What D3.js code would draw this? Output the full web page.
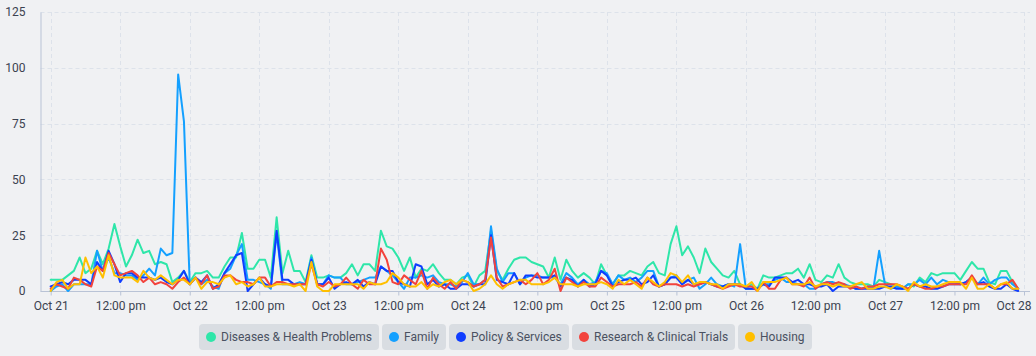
<!DOCTYPE html>
<html><head><meta charset="utf-8">
<script src="https://cdn.jsdelivr.net/npm/d3@7"></script>
<style>
html,body{margin:0;padding:0;background:#f0f1f3;}
svg{display:block;font-family:Roboto,"Noto Sans",sans-serif;}
</style></head>
<body><svg id="chart" width="1036" height="356"></svg>
<script>
// Hourly values, Oct 21 00:00 .. Oct 27 23:00
const seriesNames = ["Diseases & Health Problems","Family","Policy & Services","Research & Clinical Trials","Housing"];
const seriesColors = ["#2ee6a9","#14a0ff","#0f3dff","#f2433d","#ffbf00"];

const diseases = [
 5,5,5,7,9,15,8,10,18,12,19,30,20,11,16,23,17,18,12,13,12,4,6,9,
 4,8,8,9,6,6,11,15,15,26,10,10,14,14,6,33,8,18,9,9,4,16,6,6,
 7,6,6,8,12,7,12,12,9,27,20,19,15,9,15,6,10,9,12,8,5,5,3,6,
 7,2,7,9,27,9,5,10,14,15,15,13,12,11,6,15,5,14,9,6,8,6,3,12,
 7,3,7,7,9,8,7,11,13,8,7,21,29,16,20,15,8,19,13,10,7,6,9,3,
 1,3,1,7,6,6,7,8,8,10,6,12,5,4,7,6,12,6,4,3,3,3,2,5,
 4,3,2,1,3,2,6,4,8,7,8,8,8,5,9,13,10,10,4,3,9,9,4,1];
const family = [
 0,2,3,0,3,3,3,3,18,9,15,8,8,7,7,5,7,10,7,19,16,17,97,76,
 3,6,3,5,2,1,8,10,16,21,5,5,4,3,1,26,3,3,3,4,3,15,3,3,
 7,6,6,3,3,4,5,6,6,11,9,7,4,1,6,6,7,6,7,4,3,3,2,4,
 8,3,3,5,29,10,4,8,8,3,6,7,7,6,6,6,3,8,6,3,5,3,4,9,
 8,3,7,5,6,4,6,9,9,2,3,6,7,3,5,6,1,3,6,3,2,3,2,21,
 1,1,1,3,3,5,6,4,4,3,3,1,1,3,4,4,3,3,2,1,1,2,1,18,
 3,1,2,1,3,3,5,3,6,3,5,4,4,3,4,6,3,6,3,5,6,6,3,1];
const policy = [
 2,3,4,3,5,5,5,3,13,9,18,12,4,8,8,6,6,6,5,6,4,3,5,9,
 3,6,4,7,1,3,8,12,16,17,0,3,6,3,2,27,5,5,3,3,3,14,3,3,
 6,1,3,4,3,5,2,4,3,11,9,9,4,3,2,12,11,3,5,2,3,1,1,3,
 3,2,3,3,25,5,4,3,8,3,7,7,6,6,6,7,2,6,5,2,5,2,3,9,
 7,2,4,5,5,6,3,4,7,2,3,6,6,3,5,3,3,4,3,2,2,3,3,3,
 1,1,1,3,2,6,6,6,4,5,3,3,2,2,3,0,2,2,2,1,1,1,1,1,
 2,2,1,1,1,3,2,2,1,1,2,3,3,3,4,6,3,4,2,1,1,3,1,0];
const research = [
 1,3,2,1,6,5,3,2,11,9,17,12,7,8,9,7,4,6,3,4,3,1,4,6,
 3,6,3,7,1,2,7,7,5,4,4,3,6,6,2,4,4,3,3,3,3,12,3,2,
 4,2,3,6,3,1,5,3,3,19,14,4,3,7,5,3,9,1,6,3,1,4,1,5,
 4,2,3,5,24,6,2,3,4,5,3,5,8,3,5,10,0,6,4,2,4,2,2,6,
 4,2,3,3,3,4,2,6,3,2,3,3,3,2,3,2,3,4,3,2,1,2,3,2,
 2,2,0,4,1,1,5,6,3,3,2,6,1,3,4,3,4,3,1,2,1,2,2,3,
 3,3,3,2,1,3,2,1,1,2,2,3,3,3,3,7,3,3,3,1,3,3,5,1];
const housing = [
 0,4,5,1,3,3,15,8,11,6,16,7,6,6,6,4,9,6,5,7,5,3,5,5,
 3,6,1,4,4,3,6,7,3,4,2,3,6,2,2,3,3,3,2,3,0,13,2,0,
 0,3,3,3,3,3,1,4,3,3,4,8,6,3,2,2,4,1,3,2,4,5,3,5,
 4,0,1,3,7,3,1,3,4,5,5,3,3,3,4,6,3,3,3,2,3,3,3,4,
 3,1,5,3,5,3,1,6,4,2,4,8,7,4,7,3,4,4,3,3,1,3,3,3,
 2,4,0,4,4,4,5,6,3,3,3,4,2,3,3,2,3,2,2,3,4,1,1,2,
 2,1,3,2,0,4,2,3,2,2,3,4,4,4,1,6,1,1,3,1,3,4,1,1];

const xTickLabels = ["Oct 21","12:00 pm","Oct 22","12:00 pm","Oct 23","12:00 pm","Oct 24","12:00 pm","Oct 25","12:00 pm","Oct 26","12:00 pm","Oct 27","12:00 pm","Oct 28"];
const yTicks = [0,25,50,75,100,125];

const allSeries = [diseases,family,policy,research,housing];

const svg = d3.select("#chart");
const plotL = 40.5, plotR = 1030, plotT = 12, plotB = 291;
const x = d3.scaleLinear().domain([0,168]).range([50.7,1024]);
const y = d3.scaleLinear().domain([0,125]).range([plotB,plotT]);
const xTickVals = xTickLabels.map((d,i)=>i*12);

// grid
const grid = svg.append("g");
grid.selectAll("line.h").data(yTicks.slice(1)).join("line")
  .attr("x1",plotL).attr("x2",plotR).attr("y1",d=>Math.round(y(d))+0.5).attr("y2",d=>Math.round(y(d))+0.5)
  .attr("stroke","#dde2ea").attr("stroke-width",1).attr("stroke-dasharray","4,3");
grid.selectAll("line.v").data(xTickVals).join("line")
  .attr("x1",d=>Math.round(x(d))+0.5).attr("x2",d=>Math.round(x(d))+0.5).attr("y1",plotT).attr("y2",plotB)
  .attr("stroke","#dde2ea").attr("stroke-width",1).attr("stroke-dasharray","4,3");

// axes
const yAxis = svg.append("g").attr("transform",`translate(${plotL},0)`)
  .call(d3.axisLeft(y).tickValues(yTicks).tickSize(0).tickPadding(15));
yAxis.select(".domain").attr("stroke","#b9c3d6");
yAxis.selectAll("text").attr("fill","#3b4250").attr("font-size",12).attr("font-family","Roboto");

const xAxis = svg.append("g").attr("transform",`translate(0,${plotB+0.5})`)
  .call(d3.axisBottom(x).tickValues(xTickVals).tickSize(4).tickPadding(6).tickSizeOuter(0)
    .tickFormat((d,i)=>xTickLabels[i]));
xAxis.select(".domain").attr("stroke","#b9c3d6").attr("d",`M${plotL},0H${plotR}`);
xAxis.selectAll(".tick line").attr("stroke","#b9c3d6");
xAxis.selectAll("text").attr("fill","#3b4250").attr("font-size",12).attr("font-family","Roboto");
// keep last label inside the frame
xAxis.selectAll(".tick text").filter((d,i,n)=>i===n.length-1).attr("text-anchor","end").attr("x",7);

// lines
const line = d3.line().x((d,i)=>x(i)).y(d=>y(d));
svg.append("g").selectAll("path").data(allSeries).join("path")
  .attr("d",line).attr("fill","none")
  .attr("stroke",(d,i)=>seriesColors[i]).attr("stroke-width",2)
  .attr("stroke-linejoin","round").attr("stroke-linecap","round");

// legend
const lg = svg.append("g");
const items = lg.selectAll("g").data(seriesNames).join("g");
items.append("rect").attr("class","bg").attr("rx",4).attr("ry",4).attr("height",26).attr("y",0).attr("fill","#d9dde2");
items.append("circle").attr("cx",12).attr("cy",13).attr("r",5).attr("fill",(d,i)=>seriesColors[i]);
items.append("text").attr("x",22).attr("y",13).attr("dy","0.35em").attr("font-size",12).attr("font-family","Roboto")
  .attr("fill","#4a5161").text(d=>d);
let widths = [];
items.each(function(){ const w = this.querySelector("text").getComputedTextLength(); widths.push(Math.round(w)+29); });
items.select("rect").attr("width",(d,i)=>widths[i]);
const gap = 3;
const total = d3.sum(widths) + gap*(widths.length-1);
let cx = Math.round(505.5 - total/2);
items.attr("transform",(d,i)=>{ const t=`translate(${cx},324)`; cx += widths[i]+gap; return t; });
</script></body></html>
